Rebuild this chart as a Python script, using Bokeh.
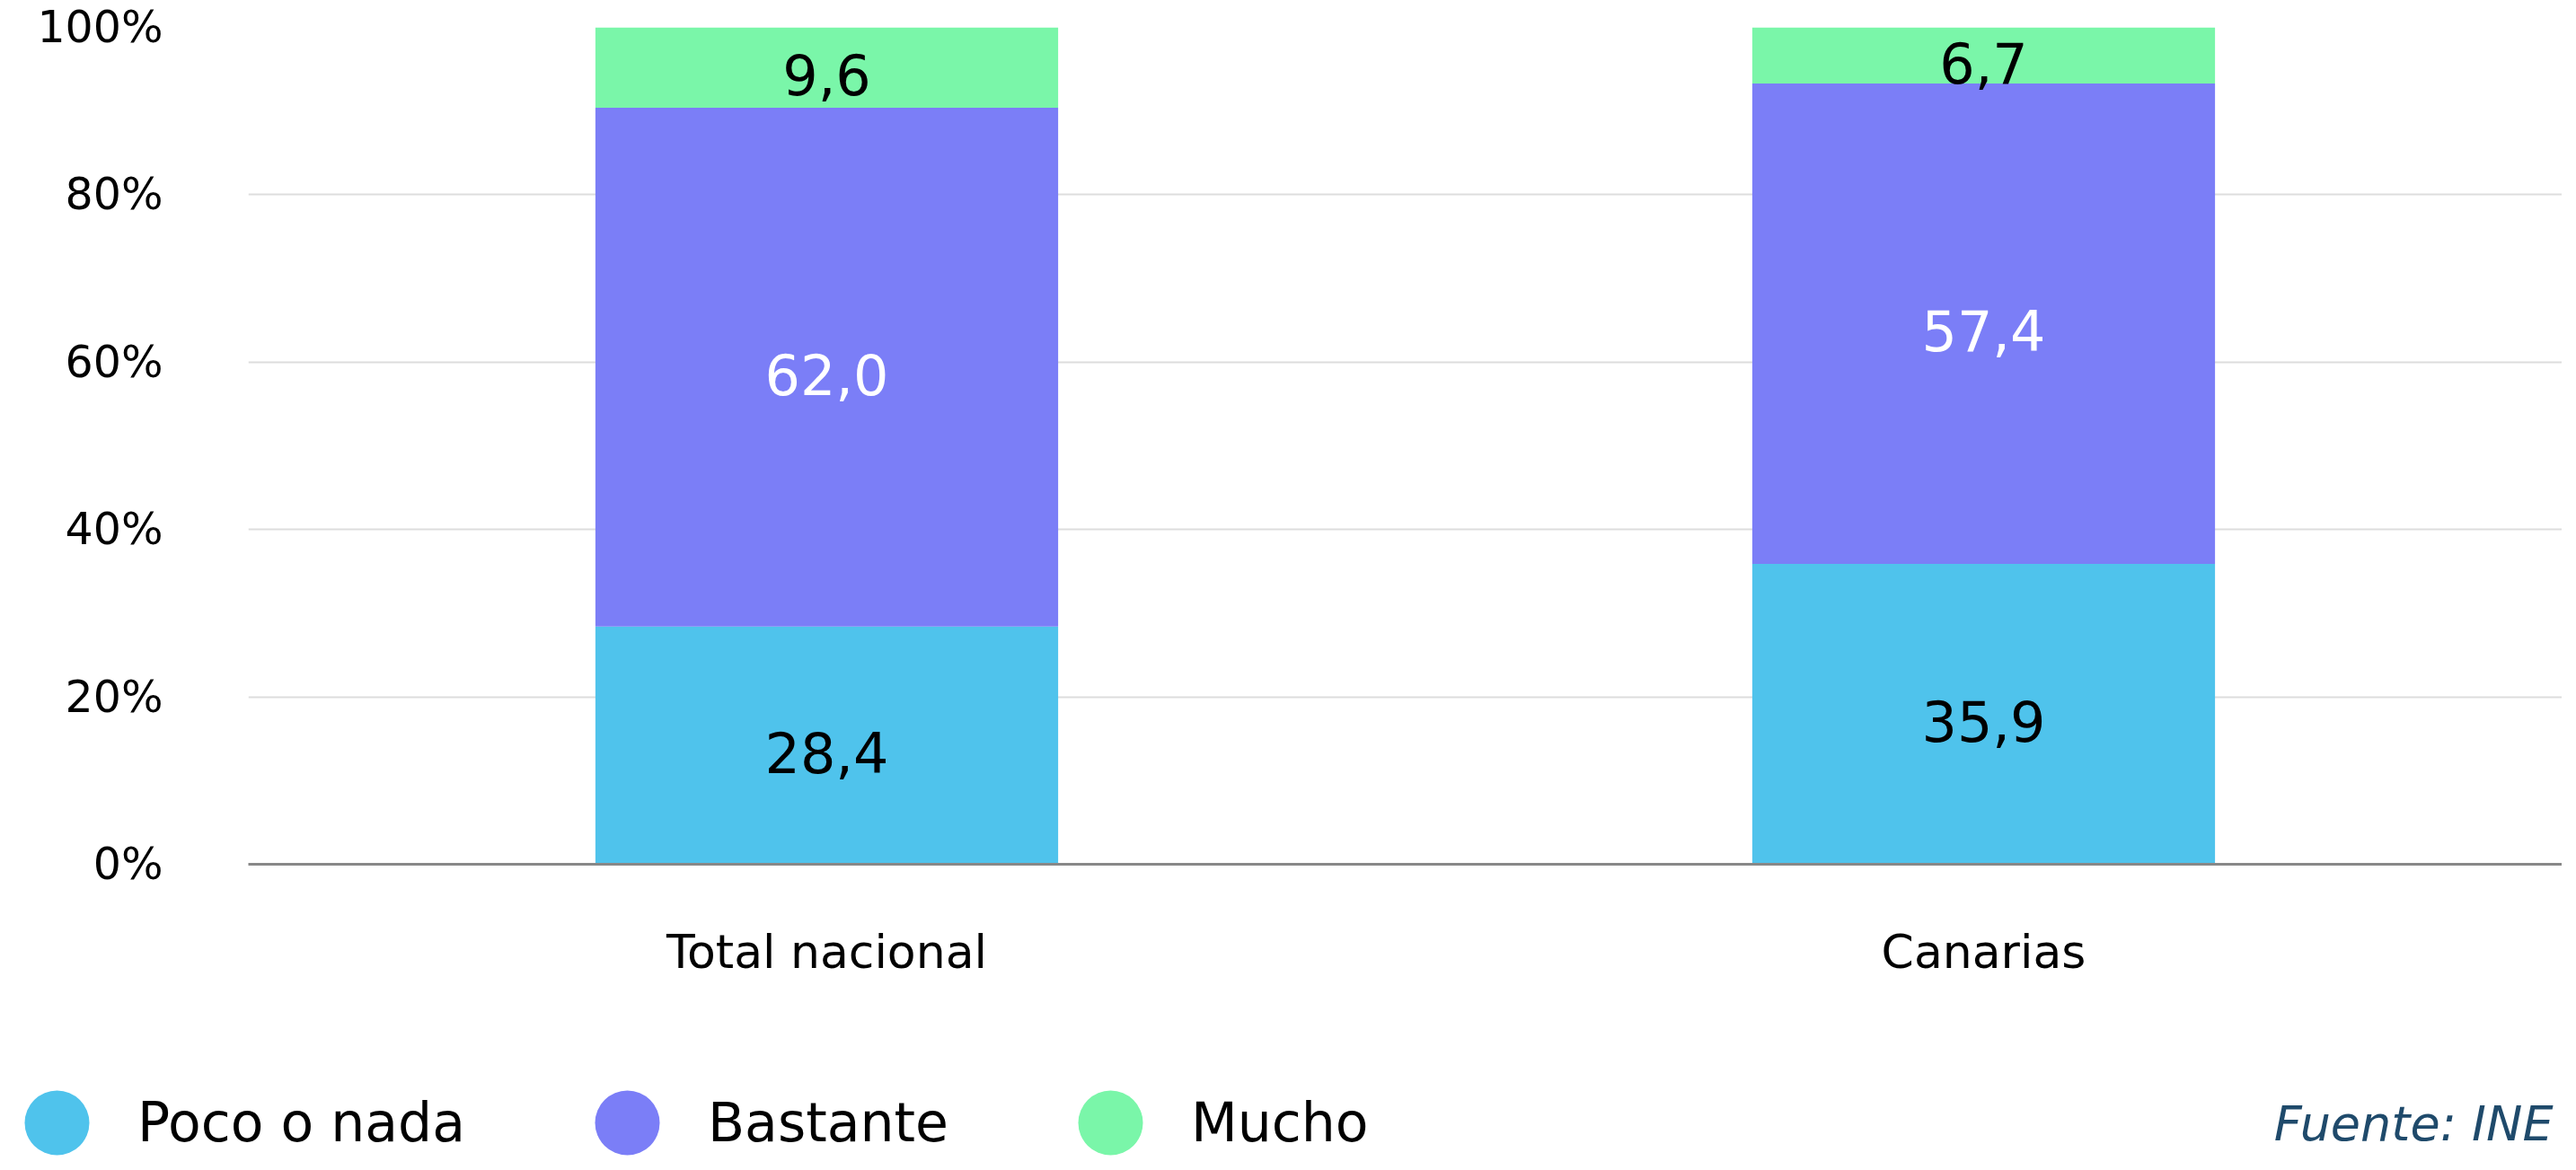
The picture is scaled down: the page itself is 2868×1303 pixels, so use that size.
import numpy as np
from bokeh.plotting import figure
from bokeh.layouts import column
from bokeh.models import (ColumnDataSource, FactorRange, Range1d, FixedTicker,
                          LabelSet, Legend, LegendItem, Label)
from bokeh.embed import file_html
from bokeh.resources import INLINE
from bokeh.core.properties import value

# ---------------- data ----------------
categories = ["Total nacional", "Canarias"]
series = ["Poco o nada", "Bastante", "Mucho"]
poco = [28.4, 35.9]
bastante = [62.0, 57.4]
mucho = [9.6, 6.7]
colors = ["#4FC3EC", "#7B7EF7", "#7AF6A9"]
label_colors = ["#000000", "#FFFFFF", "#000000"]
y_ticks = [0, 20, 40, 60, 80, 100]
y_tick_labels = ["0%", "20%", "40%", "60%", "80%", "100%"]
source_text = "Fuente: INE"

FONT = "DejaVu Sans"
W = 2852
H1, H2 = 1130, 157
LEFT, TOP = 276, 30
BOTTOM = H1 - 962

p = figure(x_range=FactorRange(*categories, range_padding=0),
           y_range=Range1d(0, 100),
           width=W, height=H1, output_backend="svg", toolbar_location=None,
           min_border_left=LEFT, min_border_right=0,
           min_border_top=TOP, min_border_bottom=BOTTOM)
p.frame_align = False
p.outline_line_color = None
p.background_fill_color = "white"
p.border_fill_color = "white"

values = {"Poco o nada": poco, "Bastante": bastante, "Mucho": mucho}
src = ColumnDataSource(dict(cat=categories, **values))
p.vbar_stack(series, x="cat", width=0.4, fill_color=colors, line_color=None, source=src)

# value labels at segment midpoints
lx, ly, lt, lc = [], [], [], []
for i, cat in enumerate(categories):
    cum = 0.0
    for s, tc in zip(series, label_colors):
        v = values[s][i]
        lx.append(cat)
        ly.append(cum + v / 2)
        lt.append(f"{v:.1f}".replace(".", ","))
        lc.append(tc)
        cum += v
lsrc = ColumnDataSource(dict(x=lx, y=ly, text=lt, color=lc))
p.add_layout(LabelSet(x="x", y="y", text="text", source=lsrc,
                      text_align="center", text_baseline="middle",
                      text_font=value(FONT), text_font_size="62px",
                      text_color="color", y_offset=-8))

# axes
p.yaxis.ticker = FixedTicker(ticks=y_ticks)
p.ygrid.ticker = FixedTicker(ticks=y_ticks)
p.yaxis.major_label_overrides = {t: l for t, l in zip(y_ticks, y_tick_labels)}
p.yaxis.axis_line_color = None
p.yaxis.major_tick_line_color = None
p.yaxis.minor_tick_line_color = None
p.yaxis.major_tick_out = 0
p.yaxis.major_tick_in = 0
p.yaxis.major_label_standoff = 95
p.yaxis.major_label_text_font = FONT
p.yaxis.major_label_text_font_size = "49px"
p.yaxis.major_label_text_color = "#000000"

p.xaxis.axis_line_color = "#888888"
p.xaxis.axis_line_width = 3
p.xaxis.major_tick_line_color = None
p.xaxis.major_tick_out = 0
p.xaxis.major_tick_in = 0
p.xaxis.major_label_standoff = 67
p.xaxis.major_label_text_font = FONT
p.xaxis.major_label_text_font_size = "52px"
p.xaxis.major_label_text_color = "#000000"

p.xgrid.grid_line_color = None
p.ygrid.grid_line_color = "#DDDDDD"
p.ygrid.grid_line_width = 2

# ---------------- legend + source strip ----------------
p2 = figure(width=W, height=H2, x_range=Range1d(0, 1), y_range=Range1d(0, 1),
            output_backend="svg", toolbar_location=None,
            x_axis_type=None, y_axis_type=None,
            min_border_left=0, min_border_right=0, min_border_top=0, min_border_bottom=0)
p2.frame_align = False
p2.outline_line_color = None
p2.background_fill_color = "white"
p2.border_fill_color = "white"

items = []
for s, c in zip(series, colors):
    # placeholder point (NaN, never drawn) so the legend swatch renders
    r = p2.scatter(x=np.array([np.nan]), y=np.array([np.nan]), marker="circle",
                   size=72, fill_color=c, line_color=None)
    items.append(LegendItem(label=s, renderers=[r]))
legend = Legend(items=items, orientation="horizontal",
                location=(-27, -53),
                glyph_width=180, glyph_height=180, label_standoff=-5,
                spacing=90, padding=0, margin=0,
                border_line_color=None, background_fill_alpha=0,
                label_text_font=FONT, label_text_font_size="60px",
                label_text_color="#000000")
p2.add_layout(legend, "center")

p2.add_layout(Label(x=W - 10, y=36, x_units="screen", y_units="screen",
                    text=source_text, text_align="right", text_baseline="alphabetic",
                    text_font=FONT, text_font_style="italic",
                    text_font_size="54px", text_color="#1F4A6B"))

layout = column(p, p2, spacing=0)
open("out.html", "w").write(file_html(layout, INLINE))
